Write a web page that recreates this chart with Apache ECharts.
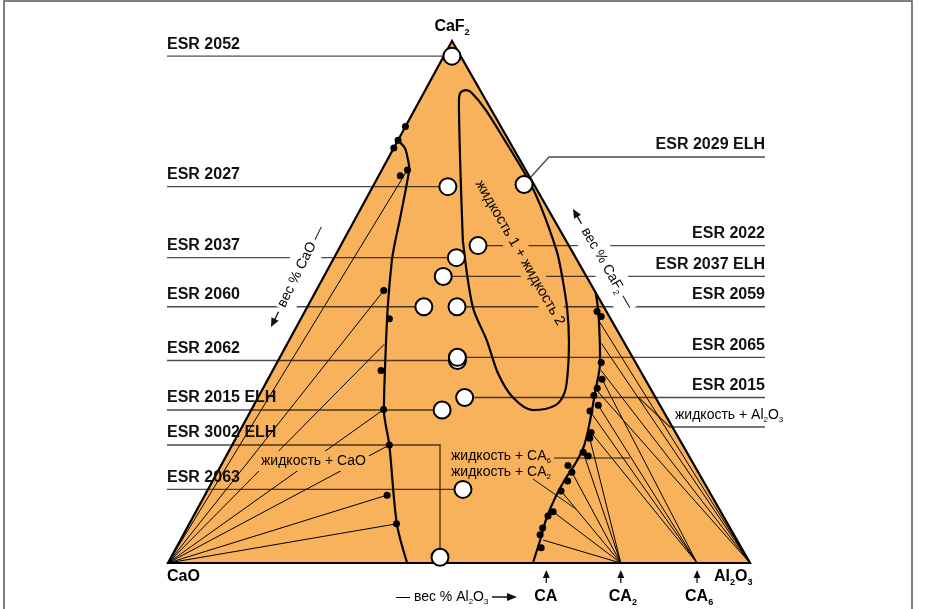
<!DOCTYPE html>
<html>
<head>
<meta charset="utf-8">
<script src="https://cdn.jsdelivr.net/npm/echarts@6/dist/echarts.min.js"></script>
<style>
html, body { margin: 0; padding: 0; background: #fff; }
#chart { width: 935px; height: 609px; }
</style>
</head>
<body>
<div id="chart"></div>
<script>
// all compositions are [wt% Al2O3, wt% CaF2], rest is CaO
var vertices = [[0, 0], [100, 0], [0, 100]];
var compoundNames = ['CA', 'CA2', 'CA6'];
var compoundAl2O3 = [65, 77.8, 90.9];

var leftNames = ['ESR 2052', 'ESR 2027', 'ESR 2037', 'ESR 2060', 'ESR 2062', 'ESR 2015 ELH', 'ESR 3002 ELH', 'ESR 2063'];
var leftComp = [[1.4, 97.1], [12.9, 72.1], [21, 58.5], [20, 49.1], [30.8, 38.8], [32.8, 29.3], [46.2, 1.1], [43.8, 14.1]];
var rightNames = ['ESR 2029 ELH', 'ESR 2022', 'ESR 2037 ELH', 'ESR 2059', 'ESR 2065', 'ESR 2015'];
var rightComp = [[25.8, 72.5], [23.6, 60.8], [20.5, 54.9], [25.7, 49.1], [30.5, 39.4], [35.5, 31.7]];

// CaO saturation boundary
var caoLiquidus = [[0, 80.9], [1.9, 79.5], [3.3, 77.6], [4.5, 75.7], [5.4, 73.2], [7.6, 66.2], [9.1, 61.2], [10.2, 57.9],
  [13.8, 49.1], [18.4, 38.8], [22.8, 29.3], [27, 22.6], [35.6, 7.6], [41.1, 0]];
var caoPoints = [[0, 83.6], [0, 81], [0, 79.5], [4.4, 75.3], [3.7, 74.2], [11.6, 52.2], [15.2, 46.8], [18.6, 36.9],
  [22.7, 29.4], [27, 22.6], [31.3, 13], [35.6, 7.5]];
var caoTies = [[4.4, 75.3], [11.6, 52.2], [16.7, 41.9], [22.7, 29.4], [27, 22.6], [31.3, 13], [35.6, 7.5]];

// liquid 1 + liquid 2 miscibility gap
var gapLoop = [[20.5, 61.8], [13.6, 75.1], [6.8, 88.5], [6.3, 90.1], [7, 90.6], [8.2, 90.1], [12, 87], [17.8, 81.5],
  [25.7, 73.8], [30.3, 68.8], [37.6, 59.8], [40.8, 55.1], [44.7, 48.9], [48.1, 42.6], [50.7, 36.9], [52.2, 32.7],
  [51.8, 30.2], [48.4, 29.3], [43.8, 31.7], [39, 36.3], [34, 42.6], [28.4, 49.1], [20.5, 61.8]];

// aluminate saturation boundary
var alLiquidus = [[48.2, 51.8], [50.3, 48.4], [53.4, 42.6], [55.5, 38.4], [57.3, 33.1], [59.2, 27.3], [60.5, 22.6],
  [60.7, 19.3], [60.4, 15.9], [60.4, 13], [60.8, 8.8], [61.8, 4.4], [62.7, 0]];
var alPoints = [[50.2, 48.2], [51.4, 47.2], [55.7, 38.4], [57.4, 35.2], [57.4, 33.5], [57.5, 32.1], [59.2, 30.2],
  [58.3, 29.1], [60.5, 25], [60.8, 23.9], [61, 21.2], [62.2, 20.5], [59.6, 18.7], [60.9, 17.4], [61, 15.7],
  [60.8, 13.8], [61.4, 9.8], [60.9, 9], [61.1, 6.7], [61.3, 5.4], [62.7, 2.9]];
var al2o3Ties = [[51.7, 46.1], [53.9, 42.1], [56.4, 36.9], [57.5, 33.1]];
var ca6Ties = [[57.4, 35.2], [59.2, 30.2], [58.3, 29.1], [60.5, 25]];
var ca2Ties = [[60.8, 23.9], [61, 21.2], [60.9, 17.4], [60.8, 13.8], [61.4, 9.8], [62.3, 4.4]];

var SKEW = 0.488; // apex lies slightly left of base midpoint in the drawing
function toXY(p) { return [p[0] + p[1] * SKEW, p[1]]; }

var FONT = '"Liberation Sans", Arial, Helvetica, sans-serif';
var ORANGE = '#F8B25C';
var LEADER = 'rgba(0,0,0,0.7)';
var TXT = '#333';
var LABEL_LEFT = 167, LABEL_RIGHT = 765;
var leaderBends = { 'ESR 2029 ELH': { row: 157, knee: 549 }, 'ESR 3002 ELH': { row: 445 } };

function richStyle(size, weight, color) {
  return {
    b: { fontFamily: FONT, fontSize: size, fontWeight: weight, color: color, lineHeight: Math.round(size * 1.25) },
    s: { fontFamily: FONT, fontSize: Math.round(size * 0.58), fontWeight: weight, color: color, verticalAlign: 'bottom' }
  };
}

var tieData = [];
caoTies.forEach(function (p) { tieData.push(toXY([0, 0]).concat(toXY(p))); });
al2o3Ties.forEach(function (p) { tieData.push(toXY([100, 0]).concat(toXY(p))); });
ca6Ties.forEach(function (p) { tieData.push(toXY([compoundAl2O3[2], 0]).concat(toXY(p))); });
ca2Ties.forEach(function (p) { tieData.push(toXY([compoundAl2O3[1], 0]).concat(toXY(p))); });

var leaderData = [];
leftComp.forEach(function (p, i) { leaderData.push(toXY(p).concat([0, i])); });
rightComp.forEach(function (p, i) { leaderData.push(toXY(p).concat([1, i])); });

var chart = echarts.init(document.getElementById('chart'));
chart.setOption({
  animation: false,
  grid: { left: 168, right: 185, top: 41, bottom: 46 },
  xAxis: { type: 'value', min: 0, max: 100, show: false },
  yAxis: { type: 'value', min: 0, max: 100, show: false },
  graphic: [
    { type: 'rect', z: 0, shape: { x: 4, y: 1, width: 908, height: 640 }, style: { fill: null, stroke: '#555', lineWidth: 1.5 } },
    { type: 'text', z: 10, x: 452, y: 27, style: { text: '{b|CaF}{s|2}', rich: richStyle(16, 'bold', '#111'), align: 'center', verticalAlign: 'middle' } },
    { type: 'text', z: 10, x: 167, y: 577, style: { text: '{b|CaO}', rich: richStyle(16, 'bold', '#111'), align: 'left', verticalAlign: 'middle' } },
    { type: 'text', z: 10, x: 714, y: 577, style: { text: '{b|Al}{s|2}{b|O}{s|3}', rich: richStyle(16, 'bold', '#111'), align: 'left', verticalAlign: 'middle' } },
    { type: 'text', z: 10, x: 396, y: 597, style: { text: '{b|— вес % Al}{s|2}{b|O}{s|3}', rich: richStyle(14, 'normal', TXT), align: 'left', verticalAlign: 'middle' } },
    { type: 'line', z: 10, shape: { x1: 492, y1: 597, x2: 508, y2: 597 }, style: { stroke: '#111', lineWidth: 1.5 } },
    { type: 'polygon', z: 10, shape: { points: [[517, 597], [507, 593], [507, 601]] }, style: { fill: '#111' } },
    // вес % CaO along left edge
    { type: 'group', z: 3, x: 271, y: 327, rotation: 63.5 * Math.PI / 180, children: [
      { type: 'polygon', z: 3, shape: { points: [[0, 0], [9, -4], [9, 4]] }, style: { fill: '#111' } },
      { type: 'line', z: 3, shape: { x1: 8, y1: 0, x2: 17, y2: 0 }, style: { stroke: '#111', lineWidth: 1.3 } },
      { type: 'text', z: 3, x: 21, y: 0, style: { text: '{b|вес % CaO —}', rich: richStyle(14, 'normal', TXT), align: 'left', verticalAlign: 'middle', backgroundColor: '#fff', padding: [5, 2] } }
    ] },
    // вес % CaF2 along right edge
    { type: 'group', z: 3, x: 573, y: 209, rotation: -60 * Math.PI / 180, children: [
      { type: 'polygon', z: 3, shape: { points: [[0, 0], [9, -4], [9, 4]] }, style: { fill: '#111' } },
      { type: 'line', z: 3, shape: { x1: 8, y1: 0, x2: 17, y2: 0 }, style: { stroke: '#111', lineWidth: 1.3 } },
      { type: 'text', z: 3, x: 21, y: 0, style: { text: '{b|вес % CaF}{s|2}{b| —}', rich: richStyle(14, 'normal', TXT), align: 'left', verticalAlign: 'middle', backgroundColor: '#fff', padding: [5, 2] } }
    ] },
    { type: 'text', z: 3, x: 520, y: 253, rotation: -60 * Math.PI / 180, style: { text: '{b|жидкость 1 + жидкость 2}', rich: richStyle(14.5, 'normal', TXT), align: 'center', verticalAlign: 'middle', backgroundColor: ORANGE, padding: [2, 2] } },
    { type: 'text', z: 3, x: 258, y: 461, style: { text: '{b|жидкость + CaO}', rich: richStyle(14, 'normal', TXT), align: 'left', verticalAlign: 'middle', backgroundColor: ORANGE, padding: [1, 3] } },
    { type: 'text', z: 10, x: 451, y: 456, style: { text: '{b|жидкость + CA}{s|6}', rich: richStyle(14, 'normal', TXT), align: 'left', verticalAlign: 'middle' } },
    { type: 'text', z: 10, x: 451, y: 472, style: { text: '{b|жидкость + CA}{s|2}', rich: richStyle(14, 'normal', TXT), align: 'left', verticalAlign: 'middle' } },
    { type: 'line', z: 3, shape: { x1: 554, y1: 458, x2: 630, y2: 458 }, style: { stroke: '#111', lineWidth: 1.2 } },
    { type: 'line', z: 3, shape: { x1: 533, y1: 479, x2: 576, y2: 509 }, style: { stroke: '#111', lineWidth: 1 } },
    { type: 'text', z: 10, x: 675, y: 415, style: { text: '{b|жидкость + Al}{s|2}{b|O}{s|3}', rich: richStyle(14, 'normal', TXT), align: 'left', verticalAlign: 'middle' } },
    { type: 'polyline', z: 3, shape: { points: [[638, 397], [670, 427], [765, 427]] }, style: { stroke: LEADER, lineWidth: 1.3, fill: null } }
  ],
  series: [
    {
      type: 'custom', name: 'triangle', z: 1, clip: false,
      data: [[0, 0]],
      renderItem: function (params, api) {
        var pts = vertices.map(function (v) { return api.coord(toXY(v)); });
        return { type: 'polygon', shape: { points: pts }, style: { fill: ORANGE, stroke: '#000', lineWidth: 2.2, lineJoin: 'miter' } };
      }
    },
    {
      type: 'custom', name: 'leaders', z: 2, clip: false,
      data: leaderData,
      encode: { x: 0, y: 1 },
      renderItem: function (params, api) {
        var c = api.coord([api.value(0), api.value(1)]);
        var right = api.value(2) === 1;
        var name = (right ? rightNames : leftNames)[api.value(3)];
        var bend = leaderBends[name];
        var edge = right ? LABEL_RIGHT : LABEL_LEFT;
        var row = bend ? bend.row : c[1];
        var pts;
        if (!bend) pts = [[edge, row], [c[0], c[1]]];
        else if (bend.knee) pts = [[edge, row], [bend.knee, row], [c[0], c[1]]];
        else pts = [[edge, row], [c[0], row], [c[0], c[1]]];
        return { type: 'group', children: [
          { type: 'polyline', shape: { points: pts }, style: { stroke: LEADER, lineWidth: 1.4, fill: null } },
          { type: 'text', x: edge, y: row - 12, style: { text: name, font: 'bold 16px ' + FONT, fill: '#111', align: right ? 'right' : 'left', verticalAlign: 'middle' } }
        ] };
      }
    },
    {
      type: 'custom', name: 'ties', z: 2, clip: false,
      data: tieData,
      encode: { x: [0, 2], y: [1, 3] },
      renderItem: function (params, api) {
        var a = api.coord([api.value(0), api.value(1)]);
        var b = api.coord([api.value(2), api.value(3)]);
        return { type: 'line', shape: { x1: a[0], y1: a[1], x2: b[0], y2: b[1] }, style: { stroke: '#000', lineWidth: 1 } };
      }
    },
    {
      type: 'custom', name: 'compounds', z: 10, clip: false,
      data: compoundAl2O3.map(function (a, i) { return [a, 0, i]; }),
      renderItem: function (params, api) {
        var c = api.coord(toXY([api.value(0), api.value(1)]));
        var nm = compoundNames[api.value(2)];
        var txt = nm.length > 2 ? '{b|CA}{s|' + nm.charAt(2) + '}' : '{b|CA}';
        return { type: 'group', children: [
          { type: 'polygon', shape: { points: [[c[0], c[1] + 7], [c[0] - 3.5, c[1] + 15], [c[0] + 3.5, c[1] + 15]] }, style: { fill: '#111' } },
          { type: 'line', shape: { x1: c[0], y1: c[1] + 14, x2: c[0], y2: c[1] + 20 }, style: { stroke: '#111', lineWidth: 1.3 } },
          { type: 'text', x: c[0] - 12, y: c[1] + 34, style: { text: txt, rich: richStyle(16, 'bold', '#111'), align: 'left', verticalAlign: 'middle' } }
        ] };
      }
    },
    { type: 'line', name: 'CaO boundary', z: 4, data: caoLiquidus.map(toXY), smooth: 0.3, symbol: 'none', lineStyle: { color: '#000', width: 2.2 } },
    { type: 'line', name: 'miscibility gap', z: 4, data: gapLoop.map(toXY), smooth: 0.3, symbol: 'none', lineStyle: { color: '#000', width: 2.2 } },
    { type: 'line', name: 'aluminate boundary', z: 4, data: alLiquidus.map(toXY), smooth: 0.3, symbol: 'none', lineStyle: { color: '#000', width: 2.2 } },
    { type: 'scatter', name: 'points', z: 5, data: caoPoints.concat(alPoints).map(toXY), symbolSize: 7, itemStyle: { color: '#000', opacity: 1 } },
    { type: 'scatter', name: 'ESR', z: 6, data: leftComp.concat(rightComp).map(toXY), symbolSize: 17, itemStyle: { color: '#fff', borderColor: '#000', borderWidth: 2, opacity: 1 } }
  ]
});
</script>
</body>
</html>
